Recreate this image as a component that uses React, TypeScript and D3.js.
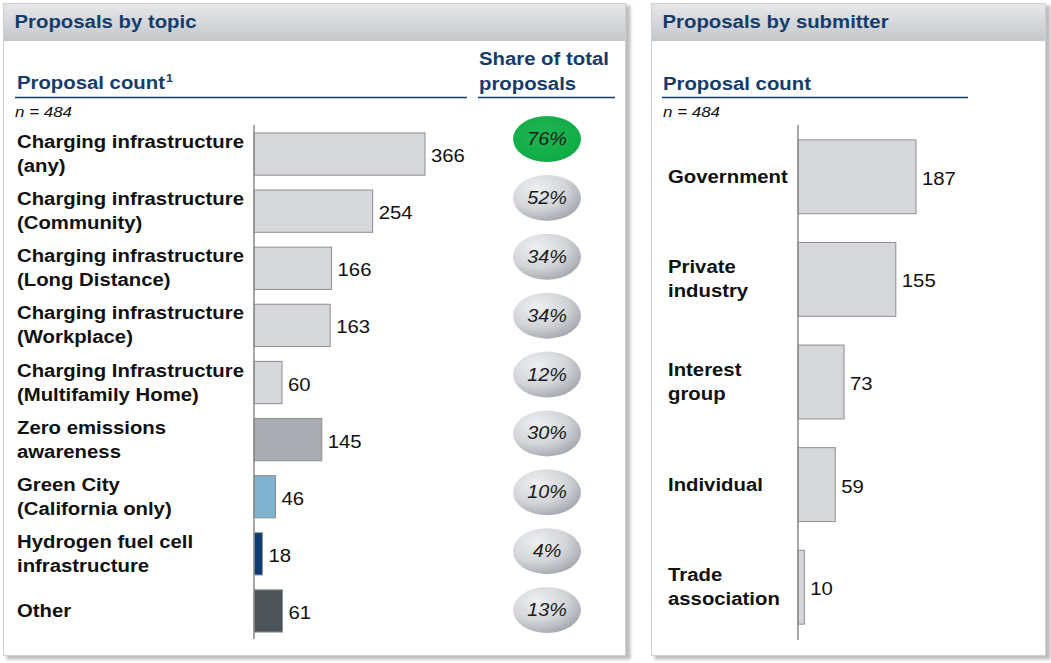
import React from "react";
import * as d3 from "d3";

const topicLabels: string[][] = [
  ["Charging infrastructure", "(any)"],
  ["Charging infrastructure", "(Community)"],
  ["Charging infrastructure", "(Long Distance)"],
  ["Charging infrastructure", "(Workplace)"],
  ["Charging Infrastructure", "(Multifamily Home)"],
  ["Zero emissions", "awareness"],
  ["Green City", "(California only)"],
  ["Hydrogen fuel cell", "infrastructure"],
  ["Other"],
];
const topicCounts = [366, 254, 166, 163, 60, 145, 46, 18, 61];
const topicShares = ["76%", "52%", "34%", "34%", "12%", "30%", "10%", "4%", "13%"];
const topicColors = ["#d6d7db", "#d6d7db", "#d6d7db", "#d6d7db", "#d6d7db", "#a9acb3", "#7fb2cf", "#0e3a74", "#4c5458"];

const submitterLabels: string[][] = [
  ["Government"],
  ["Private", "industry"],
  ["Interest", "group"],
  ["Individual"],
  ["Trade", "association"],
];
const submitterCounts = [187, 155, 73, 59, 10];

const FONT = "'Liberation Sans', Arial, Helvetica, sans-serif";
const NAVY = "#143c6c";

function T({ x, y, sx = 1.13, anchor = "start", children, ...rest }: any) {
  return (
    <text transform={`translate(${x},${y}) scale(${sx},1)`} textAnchor={anchor} {...rest}>
      {children}
    </text>
  );
}

function Panel({ x, y, w, h, title }: { x: number; y: number; w: number; h: number; title: string }) {
  return (
    <g>
      <rect x={x + 3} y={y + 2} width={w + 2} height={h + 2} fill="#bdbdbd" filter="url(#blur)" />
      <rect x={x} y={y} width={w} height={h} fill="#fff" stroke="#cfd0d2" strokeWidth={1} />
      <rect x={x + 0.5} y={y + 0.5} width={w - 1} height={37} fill="url(#hdr)" />
      <T x={x + 11} y={y + 24} sx={1.1} fontFamily={FONT} fontWeight="bold" fontSize={18.5} fill={NAVY}>
        {title}
      </T>
    </g>
  );
}

export default function App() {
  const yTopic = d3.scaleBand<number>().domain(d3.range(topicCounts.length)).range([125.5, 639.5]).paddingInner(0.26).paddingOuter(0.13);
  const xTopic = d3.scaleLinear().domain([0, 366]).range([254, 425]);
  const yShare = d3.scalePoint<number>().domain(d3.range(topicShares.length)).range([139, 610]);

  const ySub = d3.scaleBand<number>().domain(d3.range(submitterCounts.length)).range([125.5, 638.5]).paddingInner(0.28).paddingOuter(0.14);
  const xSub = d3.scaleLinear().domain([0, 187]).range([798, 916]);

  const lineH = 24;

  return (
    <svg width={1051} height={663} style={{ position: "absolute", left: 0, top: 0 }} fontFamily={FONT}>
      <defs>
        <linearGradient id="hdr" x1="0" y1="0" x2="0" y2="1">
          <stop offset="0" stopColor="#e6e7e9" />
          <stop offset="1" stopColor="#c4c7cb" />
        </linearGradient>
        <radialGradient id="ovalGray" cx="0.35" cy="0.3" r="0.8">
          <stop offset="0" stopColor="#eeeff1" />
          <stop offset="0.55" stopColor="#d2d4d8" />
          <stop offset="1" stopColor="#9da0a6" />
        </radialGradient>
        <radialGradient id="ovalGreen" cx="0.45" cy="0.4" r="0.75">
          <stop offset="0" stopColor="#1fb550" />
          <stop offset="0.7" stopColor="#12ad47" />
          <stop offset="1" stopColor="#0e9a3e" />
        </radialGradient>
        <filter id="blur" x="-5%" y="-5%" width="110%" height="110%">
          <feGaussianBlur stdDeviation="1.5" />
        </filter>
      </defs>
      <rect width={1051} height={663} fill="#fff" />

      <Panel x={3.5} y={3.5} w={622} h={652} title="Proposals by topic" />
      <Panel x={651.5} y={3.5} w={394} h={652} title="Proposals by submitter" />

      {/* Left headers */}
      <T x={17} y={89} sx={1.13} fontSize={18} fontWeight="bold" fill={NAVY}>
        Proposal count<tspan fontSize={11} dx={1} dy={-7}>1</tspan>
      </T>
      <line x1={15} x2={467} y1={97.5} y2={97.5} stroke={NAVY} strokeWidth={1.3} />
      <T x={479} y={65} sx={1.13} fontSize={18} fontWeight="bold" fill={NAVY}>Share of total</T>
      <T x={479} y={90} sx={1.13} fontSize={18} fontWeight="bold" fill={NAVY}>proposals</T>
      <line x1={478} x2={615} y1={97.5} y2={97.5} stroke={NAVY} strokeWidth={1.3} />
      <T x={15} y={117} sx={1.13} fontSize={15} fontStyle="italic" fill="#111">n = 484</T>

      {topicCounts.map((v, i) => {
        const y0 = yTopic(i)!;
        const bh = yTopic.bandwidth();
        const cy = y0 + bh / 2;
        const lines = topicLabels[i];
        return (
          <g key={i}>
            {lines.map((l, j) => (
              <T key={j} x={17} y={cy + (j - (lines.length - 1) / 2) * lineH + 6} sx={1.13} fontSize={18} fontWeight="bold" fill="#111">
                {l}
              </T>
            ))}
            <rect x={xTopic(0)} y={y0} width={xTopic(v) - xTopic(0)} height={bh} fill={topicColors[i]} stroke="#8c8d90" strokeWidth={1} />
            <T x={xTopic(v) + 6} y={cy + 8} sx={1.13} fontSize={18} fill="#111">{v}</T>
          </g>
        );
      })}
      <line x1={254} x2={254} y1={125} y2={639} stroke="#8a8a8a" strokeWidth={1.5} />

      {topicShares.map((s, i) => (
        <g key={i}>
          <ellipse cx={547} cy={yShare(i)!} rx={34} ry={23} fill={i === 0 ? "url(#ovalGreen)" : "url(#ovalGray)"} />
          <T x={547} y={yShare(i)! + 6} sx={1.1} anchor="middle" fontSize={18} fontStyle="italic" fill="#1a1a1a">{s}</T>
        </g>
      ))}

      {/* Right headers */}
      <T x={663} y={90} sx={1.13} fontSize={18} fontWeight="bold" fill={NAVY}>Proposal count</T>
      <line x1={662} x2={968} y1={97.5} y2={97.5} stroke={NAVY} strokeWidth={1.3} />
      <T x={663} y={117} sx={1.13} fontSize={15} fontStyle="italic" fill="#111">n = 484</T>

      {submitterCounts.map((v, i) => {
        const y0 = ySub(i)!;
        const bh = ySub.bandwidth();
        const cy = y0 + bh / 2;
        const lines = submitterLabels[i];
        return (
          <g key={i}>
            {lines.map((l, j) => (
              <T key={j} x={668} y={cy + (j - (lines.length - 1) / 2) * lineH + 6} sx={1.13} fontSize={18} fontWeight="bold" fill="#111">
                {l}
              </T>
            ))}
            <rect x={xSub(0)} y={y0} width={xSub(v) - xSub(0)} height={bh} fill="#d6d7db" stroke="#8c8d90" strokeWidth={1} />
            <T x={xSub(v) + 6} y={cy + 8} sx={1.13} fontSize={18} fill="#111">{v}</T>
          </g>
        );
      })}
      <line x1={798} x2={798} y1={125} y2={640} stroke="#8a8a8a" strokeWidth={1.5} />
    </svg>
  );
}
